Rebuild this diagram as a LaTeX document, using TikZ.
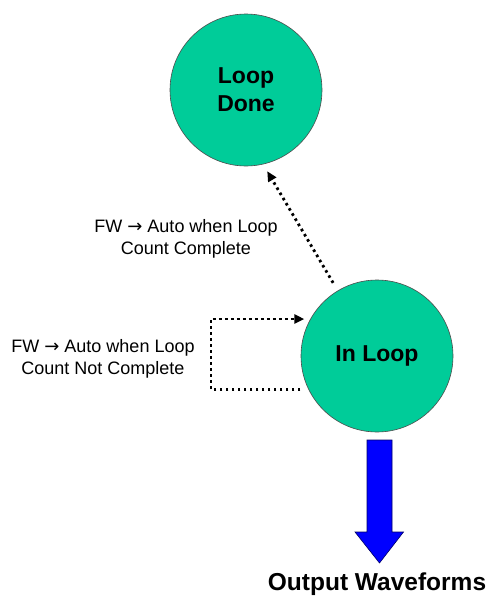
\documentclass[tikz,border=0pt]{standalone}
\usepackage{fontspec}
\setmainfont{Liberation Sans}
\newfontfamily\arrowfont{DejaVu Sans}
\usetikzlibrary{arrows.meta}
\definecolor{stategreen}{RGB}{0,204,153}
\definecolor{arrowblue}{RGB}{0,0,255}
\newcommand{\fwarrow}{{\arrowfont →}}
\begin{document}
\begin{tikzpicture}[x=1pt,y=-1pt,
  state/.style={circle,minimum size=152pt,inner sep=0pt,fill=stategreen,draw=black!70,line width=0.6pt,
    font=\fontsize{23}{28}\selectfont\bfseries,align=center},
  lbl/.style={font=\fontsize{18}{22}\selectfont,align=center,inner sep=0pt},
  dotline/.style={line width=2.8pt,dash pattern=on 2.6pt off 3.4pt,-{Triangle[length=10pt,width=9pt]}}
]
\useasboundingbox (0,0) rectangle (500,605);
\node[state] (done) at (246,90) {Loop\\Done};
\node[state] (in) at (377,356) {In Loop};
\node[lbl] (l1) at (186,239) {FW \fwarrow\ Auto when Loop\\Count Complete};
\node[lbl] (l2) at (103,359) {FW \fwarrow\ Auto when Loop\\Count Not Complete};
\node[font=\fontsize{24.5}{28}\selectfont\bfseries,inner sep=0pt] (out) at (377,584) {Output Waveforms};
\draw[dotline,shorten <=9pt,shorten >=8pt] (in.121) -- (done.-77);
\draw[dotline] ([xshift=-8pt]in.206) -- ++(-89.5,0) |- ([xshift=-6pt]in.151);
\coordinate (a0) at (379.5,440);
\filldraw[fill=arrowblue,draw=black!60!blue,line width=0.6pt]
  ([xshift=-12.5pt]a0) -- ++(0,92) -- ++(-12,0) -- (379.5,563) -- (403.5,532) -- ++(-11.5,0) -- ([xshift=12.5pt]a0) -- cycle;
\end{tikzpicture}
\end{document}
